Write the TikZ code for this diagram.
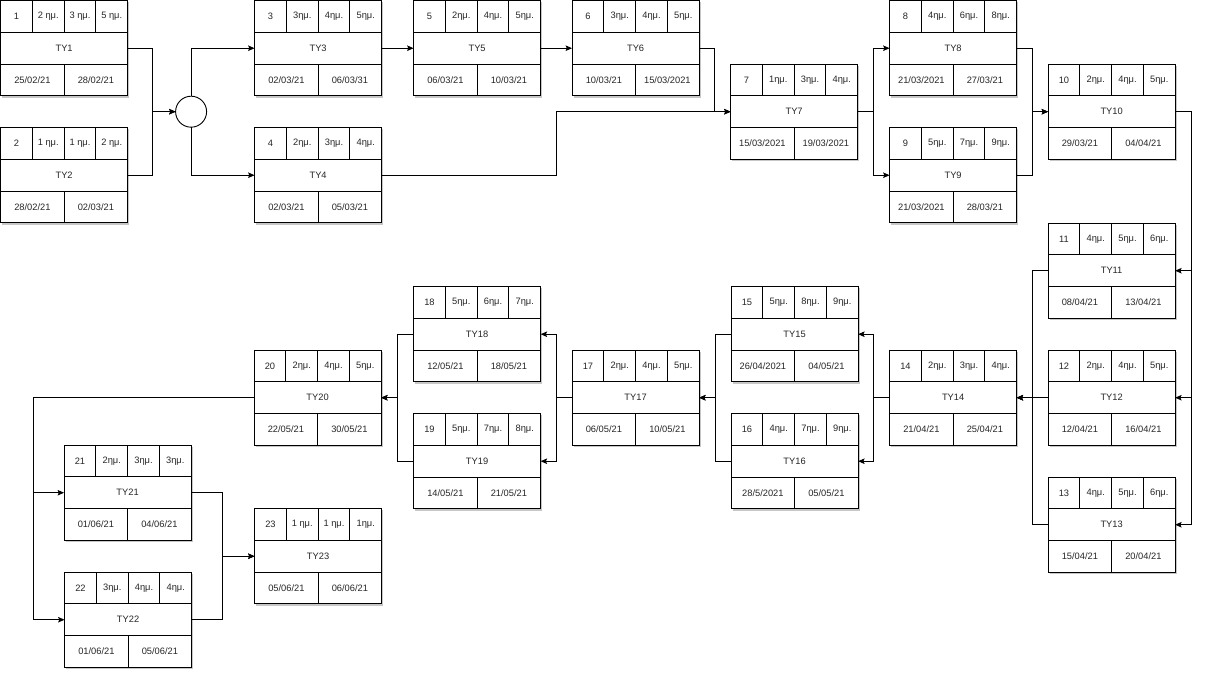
\documentclass[tikz,border=0pt]{standalone}
\usepackage{fontspec}
\setmainfont{Liberation Sans}
\usetikzlibrary{arrows.meta,shadows}
\tikzset{
  taskbox/.style={draw=black, fill=white, line width=0.9pt, rectangle, minimum width=127pt, minimum height=95.25pt, inner sep=0pt, outer sep=0pt,
    drop shadow={shadow xshift=1.8pt, shadow yshift=-1.8pt, opacity=0.22, fill=black}},
  cell/.style={inner sep=0pt, font=\fontsize{9.3}{11}\selectfont, text=black!85},
  divider/.style={line width=0.9pt},
  conn/.style={line width=0.9pt, -{Stealth[length=6.5pt, width=5.5pt, inset=1.2pt]}},
}
% #1 id, #2 left x, #3 top y, #4-#6 durations, #7 #8 dates
\newcommand{\taskcard}[8]{%
  \node[taskbox] (t#1) at ({#2+63.5},{#3+47.625}) {};
  \draw[divider] ({#2},{#3+31.75}) -- ++(127,0);
  \draw[divider] ({#2},{#3+63.5}) -- ++(127,0);
  \draw[divider] ({#2+31.75},{#3}) -- ++(0,31.75);
  \draw[divider] ({#2+63.5},{#3}) -- ++(0,31.75);
  \draw[divider] ({#2+95.25},{#3}) -- ++(0,31.75);
  \draw[divider] ({#2+63.5},{#3+63.5}) -- ++(0,31.75);
  \node[cell] (t#1-id) at ({#2+15.875},{#3+15.875}) {#1};
  \node[cell] (t#1-a) at ({#2+47.625},{#3+15.875}) {#4};
  \node[cell] (t#1-b) at ({#2+79.375},{#3+15.875}) {#5};
  \node[cell] (t#1-c) at ({#2+111.125},{#3+15.875}) {#6};
  \node[cell] (t#1-name) at ({#2+63.5},{#3+47.625}) {TY#1};
  \node[cell] (t#1-s) at ({#2+31.75},{#3+79.375}) {#7};
  \node[cell] (t#1-f) at ({#2+95.25},{#3+79.375}) {#8};
}
\begin{document}
\begin{tikzpicture}[x=1pt,y=-1pt]
\useasboundingbox (-0.6,-0.6) rectangle (1205.4,675.4);
\taskcard{1}{0}{0}{2 ημ.}{3 ημ.}{5 ημ.}{25/02/21}{28/02/21}
\taskcard{2}{0}{127}{1 ημ.}{1 ημ.}{2 ημ.}{28/02/21}{02/03/21}
\node[draw=black, fill=white, line width=0.9pt, circle, minimum size=31pt, inner sep=0pt, outer sep=0pt] (c) at (190.5,111.1) {};
\taskcard{3}{254}{0}{3ημ.}{4ημ.}{5ημ.}{02/03/21}{06/03/31}
\taskcard{4}{254}{127}{2ημ.}{3ημ.}{4ημ.}{02/03/21}{05/03/21}
\taskcard{5}{413}{0}{2ημ.}{4ημ.}{5ημ.}{06/03/21}{10/03/21}
\taskcard{6}{571.5}{0}{3ημ.}{4ημ.}{5ημ.}{10/03/21}{15/03/2021}
\taskcard{7}{730}{63.5}{1ημ.}{3ημ.}{4ημ.}{15/03/2021}{19/03/2021}
\taskcard{8}{889}{0}{4ημ.}{6ημ.}{8ημ.}{21/03/2021}{27/03/21}
\taskcard{9}{889}{127}{5ημ.}{7ημ.}{9ημ.}{21/03/2021}{28/03/21}
\taskcard{10}{1047.5}{63.5}{2ημ.}{4ημ.}{5ημ.}{29/03/21}{04/04/21}
\taskcard{11}{1047.5}{222.5}{4ημ.}{5ημ.}{6ημ.}{08/04/21}{13/04/21}
\taskcard{12}{1047.5}{349.5}{2ημ.}{4ημ.}{5ημ.}{12/04/21}{16/04/21}
\taskcard{13}{1047.5}{476.5}{4ημ.}{5ημ.}{6ημ.}{15/04/21}{20/04/21}
\taskcard{14}{889}{349.5}{2ημ.}{3ημ.}{4ημ.}{21/04/21}{25/04/21}
\taskcard{15}{730.5}{286}{5ημ.}{8ημ.}{9ημ.}{26/04/2021}{04/05/21}
\taskcard{16}{730.5}{413}{4ημ.}{7ημ.}{9ημ.}{28/5/2021}{05/05/21}
\taskcard{17}{571.5}{349.5}{2ημ.}{4ημ.}{5ημ.}{06/05/21}{10/05/21}
\taskcard{18}{413}{286}{5ημ.}{6ημ.}{7ημ.}{12/05/21}{18/05/21}
\taskcard{19}{413}{413}{5ημ.}{7ημ.}{8ημ.}{14/05/21}{21/05/21}
\taskcard{20}{253.5}{349.5}{2ημ.}{4ημ.}{5ημ.}{22/05/21}{30/05/21}
\taskcard{21}{63.5}{444.5}{2ημ.}{3ημ.}{3ημ.}{01/06/21}{04/06/21}
\taskcard{22}{64}{571.5}{3ημ.}{4ημ.}{4ημ.}{01/06/21}{05/06/21}
\taskcard{23}{254}{508}{1 ημ.}{1 ημ.}{1ημ.}{05/06/21}{06/06/21}
% connectors
\draw[conn] (t1.east) -- ++(24.5,0) |- (c.west);
\draw[conn] (t2.east) -- ++(24.5,0) |- (c.west);
\draw[conn] (c.north) |- (t3.west);
\draw[conn] (c.south) |- (t4.west);
\draw[conn] (t3.east) -- (t5.west);
\draw[conn] (t5.east) -- (t6.west);
\draw[conn] (t6.east) -- ++(15,0) |- (t7.west);
\draw[conn] (t4.east) -- ++(175,0) |- (t7.west);
\draw[conn] (t7.east) -- ++(16,0) |- (t8.west);
\draw[conn] (t7.east) -- ++(16,0) |- (t9.west);
\draw[conn] (t8.east) -- ++(16,0) |- (t10.west);
\draw[conn] (t9.east) -- ++(16,0) |- (t10.west);
\draw[conn] (t10.east) -- ++(16,0) |- (t11.east);
\draw[conn] (t10.east) -- ++(16,0) |- (t12.east);
\draw[conn] (t10.east) -- ++(16,0) |- (t13.east);
\draw[conn] (t11.west) -- ++(-16,0) |- (t14.east);
\draw[conn] (t12.west) -- (t14.east);
\draw[conn] (t13.west) -- ++(-16,0) |- (t14.east);
\draw[conn] (t14.west) -- ++(-16,0) |- (t15.east);
\draw[conn] (t14.west) -- ++(-16,0) |- (t16.east);
\draw[conn] (t15.west) -- ++(-16,0) |- (t17.east);
\draw[conn] (t16.west) -- ++(-16,0) |- (t17.east);
\draw[conn] (t17.west) -- ++(-16,0) |- (t18.east);
\draw[conn] (t17.west) -- ++(-16,0) |- (t19.east);
\draw[conn] (t18.west) -- ++(-16,0) |- (t20.east);
\draw[conn] (t19.west) -- ++(-16,0) |- (t20.east);
\draw[conn] (t20.west) -- ++(-221,0) |- (t21.west);
\draw[conn] (t20.west) -- ++(-221,0) |- (t22.west);
\draw[conn] (t21.east) -- ++(31,0) |- (t23.west);
\draw[conn] (t22.east) -- ++(31,0) |- (t23.west);
\end{tikzpicture}
\end{document}
